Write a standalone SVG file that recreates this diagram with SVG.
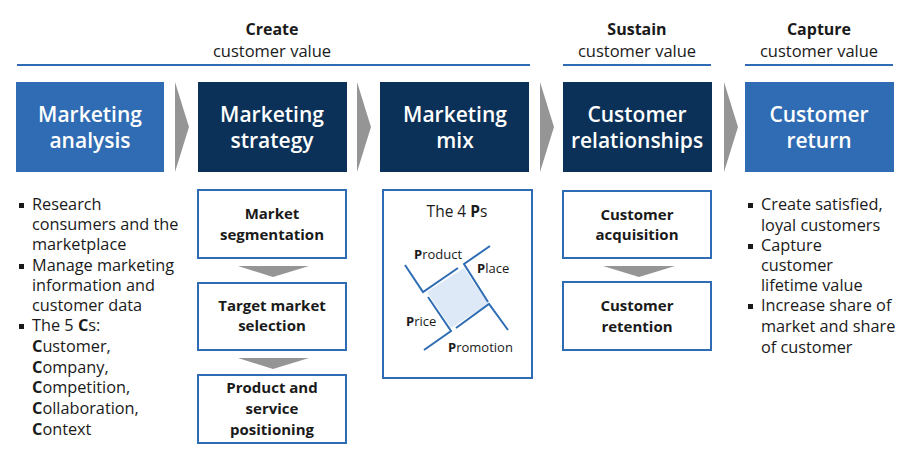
<svg xmlns="http://www.w3.org/2000/svg" width="914" height="454" viewBox="0 0 914 454">
<style>
text{font-family:"Open Sans","Noto Sans","Liberation Sans",sans-serif;fill:#1a1a1a}
.hb{font-size:16px;font-weight:bold;text-anchor:middle}
.hr{font-size:16.5px;text-anchor:middle}
.rule{stroke:#2e6db4;stroke-width:2}
.light{fill:#306cb3}
.dark{fill:#0b3158}
.tt{font-size:21px;font-weight:600;fill:#ffffff;text-anchor:middle}
.sub{fill:#ffffff;stroke:#2e6db4;stroke-width:2}
.st{font-size:15px;font-weight:bold;text-anchor:middle}
.bl{font-size:16.3px}
.bul{fill:#1a1a1a}
.arr{fill:#959595}
.p4{fill:none;stroke:#2e6db4;stroke-width:2}
.pl{font-size:13px}
.b{font-weight:bold}
</style>
<defs>
<rect id="bullet" width="5" height="5" class="bul"/>
</defs>

<g id="headers">
<text class="hb" x="272" y="35">Create</text>
<text class="hr" x="272" y="57">customer value</text>
<line class="rule" x1="17" y1="65" x2="530" y2="65"/>
<text class="hb" x="637" y="35">Sustain</text>
<text class="hr" x="637" y="57">customer value</text>
<line class="rule" x1="563" y1="65" x2="711" y2="65"/>
<text class="hb" x="819" y="35">Capture</text>
<text class="hr" x="819" y="57">customer value</text>
<line class="rule" x1="745" y1="65" x2="893" y2="65"/>
</g>

<g id="connectors">
<polygon class="arr" points="175,82 189,127 175,172"/>
<polygon class="arr" points="357,82 371,127 357,172"/>
<polygon class="arr" points="540,82 554,127 540,172"/>
<polygon class="arr" points="724,82 738,127 724,172"/>
<polygon class="arr" points="238,266 309,266 273,277"/>
<polygon class="arr" points="238,358 309,358 273,369"/>
<polygon class="arr" points="603,266 675,266 639,277"/>
</g>

<g id="marketing-analysis">
<rect class="light" x="16" y="82" width="148" height="90"/>
<text class="tt" x="90" y="122">Marketing</text>
<text class="tt" x="90" y="148">analysis</text>
</g>
<g id="marketing-strategy">
<rect class="dark" x="198" y="82" width="149" height="90"/>
<text class="tt" x="272" y="122">Marketing</text>
<text class="tt" x="272" y="148">strategy</text>
</g>
<g id="marketing-mix">
<rect class="dark" x="380" y="82" width="149" height="90"/>
<text class="tt" x="455" y="122">Marketing</text>
<text class="tt" x="455" y="148">mix</text>
</g>
<g id="customer-relationships">
<rect class="dark" x="563" y="82" width="149" height="90"/>
<text class="tt" x="637" y="122">Customer</text>
<text class="tt" x="637" y="148">relationships</text>
</g>
<g id="customer-return">
<rect class="light" x="745" y="82" width="149" height="90"/>
<text class="tt" x="819" y="122">Customer</text>
<text class="tt" x="819" y="148">return</text>
</g>

<g id="analysis-bullets">
<use href="#bullet" x="19" y="203"/>
<use href="#bullet" x="19" y="264"/>
<use href="#bullet" x="19" y="324"/>
<text class="bl" x="32" y="210">Research</text>
<text class="bl" x="32" y="230">consumers and the</text>
<text class="bl" x="32" y="250">marketplace</text>
<text class="bl" x="32" y="271">Manage marketing</text>
<text class="bl" x="32" y="291">information and</text>
<text class="bl" x="32" y="311">customer data</text>
<text class="bl" x="32" y="331">The 5 <tspan class="b">C</tspan>s:</text>
<text class="bl" x="32" y="352"><tspan class="b">C</tspan>ustomer,</text>
<text class="bl" x="32" y="373"><tspan class="b">C</tspan>ompany,</text>
<text class="bl" x="32" y="393"><tspan class="b">C</tspan>ompetition,</text>
<text class="bl" x="32" y="414"><tspan class="b">C</tspan>ollaboration,</text>
<text class="bl" x="32" y="435"><tspan class="b">C</tspan>ontext</text>
</g>

<g id="market-segmentation">
<rect class="sub" x="198" y="190" width="148" height="68"/>
<text class="st" x="272" y="219">Market</text>
<text class="st" x="272" y="240">segmentation</text>
</g>
<g id="target-market-selection">
<rect class="sub" x="198" y="283" width="148" height="67"/>
<text class="st" x="272" y="311">Target market</text>
<text class="st" x="272" y="331">selection</text>
</g>
<g id="product-service-positioning">
<rect class="sub" x="198" y="375" width="148" height="68"/>
<text class="st" x="272" y="393">Product and</text>
<text class="st" x="272" y="414">service</text>
<text class="st" x="272" y="435">positioning</text>
</g>

<g id="four-ps">
<rect class="sub" x="383" y="190" width="149" height="188"/>
<text x="457" y="217" style="font-size:15.5px;text-anchor:middle">The 4 <tspan class="b">P</tspan>s</text>
<polygon points="427,292 464,268 488,304 451,328" fill="#dde9f7"/>
<polyline class="p4" points="405,265 423,292 458,268"/>
<polyline class="p4" points="490,246 464,264 488,302"/>
<polyline class="p4" points="456,328 489,304 508,330"/>
<polyline class="p4" points="428,297 451,331 424,350"/>
<text class="pl" x="414" y="259"><tspan class="b">P</tspan>roduct</text>
<text class="pl" x="477" y="273"><tspan class="b">P</tspan>lace</text>
<text class="pl" x="406" y="326"><tspan class="b">P</tspan>rice</text>
<text class="pl" x="448" y="352"><tspan class="b">P</tspan>romotion</text>
</g>

<g id="customer-acquisition">
<rect class="sub" x="563" y="191" width="148" height="67"/>
<text class="st" x="637" y="220">Customer</text>
<text class="st" x="637" y="240">acquisition</text>
</g>
<g id="customer-retention">
<rect class="sub" x="563" y="282" width="148" height="68"/>
<text class="st" x="637" y="311">Customer</text>
<text class="st" x="637" y="332">retention</text>
</g>

<g id="return-bullets">
<use href="#bullet" x="748" y="203"/>
<use href="#bullet" x="748" y="244"/>
<use href="#bullet" x="748" y="304"/>
<text class="bl" x="761" y="210">Create satisfied,</text>
<text class="bl" x="761" y="231">loyal customers</text>
<text class="bl" x="761" y="251">Capture</text>
<text class="bl" x="761" y="271">customer</text>
<text class="bl" x="761" y="291">lifetime value</text>
<text class="bl" x="761" y="311">Increase share of</text>
<text class="bl" x="761" y="332">market and share</text>
<text class="bl" x="761" y="353">of customer</text>
</g>
</svg>
